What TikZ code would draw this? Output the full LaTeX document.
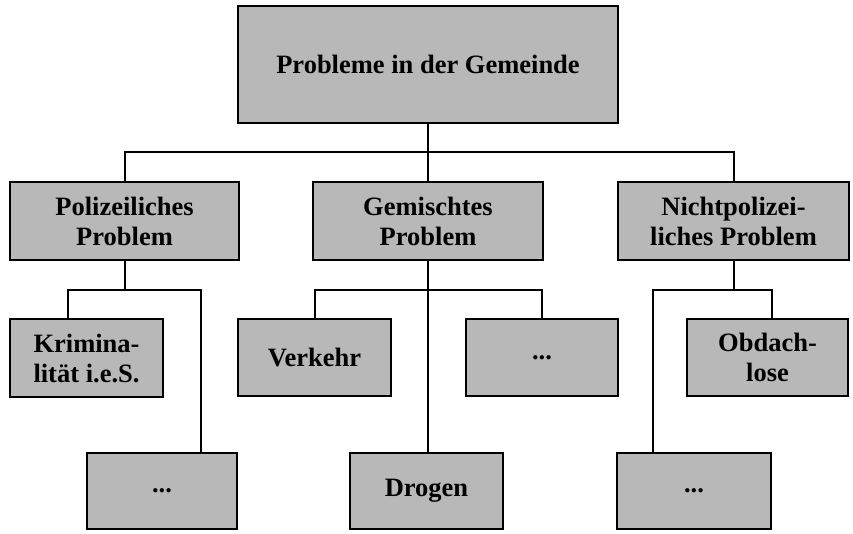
\documentclass[tikz,border=0pt]{standalone}
\usepackage{fontspec}
\setmainfont{Liberation Serif}
\definecolor{boxgray}{HTML}{B8B8B8}
\begin{document}
\begin{tikzpicture}[x=1pt,y=-1pt,
  box/.style={draw=black, line width=2pt, fill=boxgray, inner sep=0pt, align=center,
    font=\fontsize{26.5}{30}\selectfont\bfseries},
  link/.style={line width=2pt}]
\useasboundingbox (0,0) rectangle (853,534);
% nodes
\node[box, minimum width=380pt, minimum height=117pt] (top) at (428,64.5) {Probleme in der Gemeinde};
\node[box, minimum width=229pt, minimum height=78pt] (pol) at (124.5,221) {Polizeiliches\\Problem};
\node[box, minimum width=230pt, minimum height=78pt] (gem) at (428,221) {Gemischtes\\Problem};
\node[box, minimum width=231pt, minimum height=78pt] (nicht) at (733.5,221) {Nichtpolizei-\\liches Problem};
\node[box, minimum width=153pt, minimum height=78pt] (krim) at (86.5,358) {Krimina-\\lität i.e.S.};
\node[box, minimum width=153pt, minimum height=77pt] (verk) at (314.5,357.5) {Verkehr};
\node[box, minimum width=152pt, minimum height=77pt] (mdots) at (542,357.5) {...};
\node[box, minimum width=161pt, minimum height=77pt] (obd) at (767.5,357.5) {Obdach-\\lose};
\node[box, minimum width=150pt, minimum height=76pt] (pdots) at (162,491) {...};
\node[box, minimum width=153pt, minimum height=76pt] (drog) at (426.5,491) {Drogen};
\node[box, minimum width=154pt, minimum height=76pt] (rdots) at (694,491) {...};
% connectors
\draw[link] (top.south) -- (gem.north);
\draw[link] (pol.north) -- ++(0,-29) -| (nicht.north);
\coordinate (pl) at (68,290);
\coordinate (pr) at (201,290);
\draw[link] (pol.south) -- (pol.south |- pl);
\draw[link] (krim.north -| pl) -- (pl) -- (pr) -- (pr |- pdots.north);
\draw[link] (gem.south) -- (gem.south |- drog.north);
\draw[link] (verk.north) -- (verk.north |- pl) -- (mdots.north |- pl) -- (mdots.north);
\coordinate (rl) at (653,290);
\coordinate (rr) at (772,290);
\draw[link] (nicht.south) -- (nicht.south |- rl);
\draw[link] (rl |- rdots.north) -- (rl) -- (rr) -- (rr |- obd.north);
\end{tikzpicture}
\end{document}
